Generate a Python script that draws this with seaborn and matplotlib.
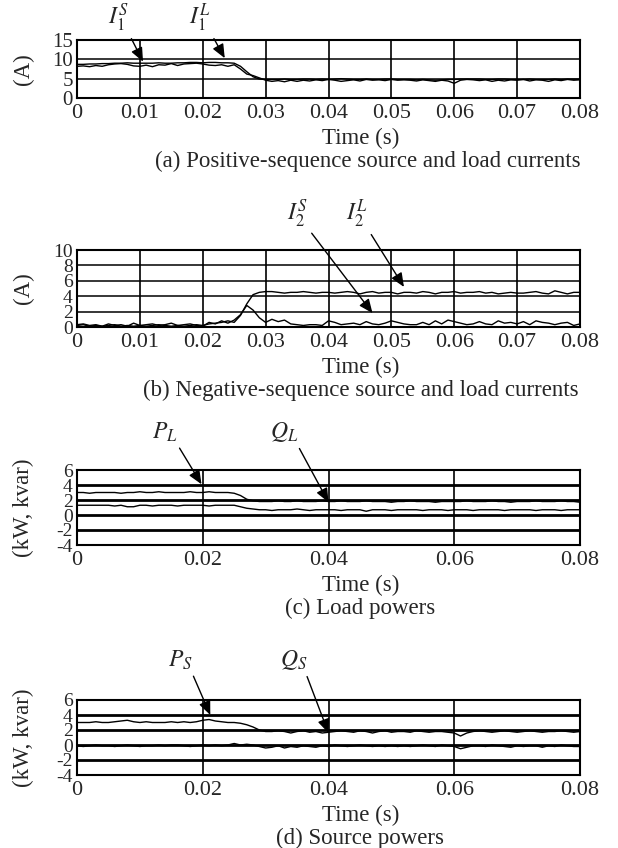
import numpy as np
import pandas as pd
import matplotlib
matplotlib.use('Agg')
import matplotlib.pyplot as plt
import seaborn as sns

# sample instants, 1 ms apart
time = [round(i * 0.001, 3) for i in range(81)]

# (a) positive-sequence currents (A)
i1_source = [8.2, 8.3, 8.1, 8.4, 8.2, 8.6, 8.8, 8.9, 8.7, 8.3,
             8.2, 8.5, 8.1, 8.6, 8.5, 8.9, 8.4, 8.8, 8.9, 9.0,
             8.8, 8.5, 8.4, 8.6, 8.2, 8.6, 7.5, 6.2, 5.8, 5.2,
             4.6, 4.3, 4.5, 4.2, 4.6, 4.3, 4.6, 4.4, 4.7, 4.5,
             4.8, 4.6, 4.3, 4.5, 4.7, 4.4, 4.8, 4.6, 4.7, 4.5,
             4.8, 4.6, 4.7, 4.6, 4.4, 4.7, 4.5, 4.3, 4.6, 4.4,
             3.8, 4.6, 4.8, 4.7, 4.5, 4.7, 4.3, 4.6, 4.4, 4.7,
             4.6, 4.8, 4.4, 4.7, 4.6, 4.3, 4.7, 4.5, 4.8, 4.6, 4.7]
i1_load = [8.7, 8.7, 8.8, 8.8, 8.9, 8.9, 9.0, 9.0, 9.1, 9.0,
           9.0, 9.0, 9.0, 9.1, 9.0, 9.0, 9.1, 9.1, 9.2, 9.2,
           9.1, 9.2, 9.2, 9.1, 9.1, 9.0, 8.2, 6.8, 5.5, 4.9,
           4.8, 4.8, 4.8, 4.9, 4.8, 4.8, 4.9, 4.9, 4.8, 4.9,
           4.8, 4.9, 5.0, 4.9, 4.8, 4.8, 4.9, 4.8, 4.8, 4.9,
           4.9, 4.8, 4.8, 4.8, 4.7, 4.8, 4.7, 4.6, 4.7, 4.8,
           4.8, 4.9, 4.9, 4.9, 4.9, 4.8, 4.8, 4.9, 4.9, 4.8,
           4.8, 4.8, 4.9, 4.8, 4.8, 4.8, 4.9, 4.8, 4.9, 4.9, 4.9]

# (b) negative-sequence currents (A)
i2_source = [0.3, 0.4, 0.2, 0.3, 0.1, 0.4, 0.2, 0.3, 0.1, 0.5,
             0.2, 0.3, 0.4, 0.2, 0.3, 0.5, 0.2, 0.3, 0.4, 0.2,
             0.1, 0.6, 0.4, 0.8, 0.5, 0.9, 1.6, 2.8, 2.2, 1.2,
             0.6, 1.0, 0.7, 0.9, 0.4, 0.3, 0.2, 0.3, 0.3, 0.2,
             0.8, 0.6, 0.3, 0.4, 0.5, 0.3, 0.7, 0.4, 0.3, 0.5,
             0.8, 0.6, 0.4, 0.3, 0.3, 0.6, 0.3, 0.8, 0.4, 0.9,
             0.7, 0.5, 0.3, 0.4, 0.7, 0.4, 0.3, 0.8, 0.5, 0.6,
             0.4, 0.7, 0.3, 0.8, 0.6, 0.5, 0.3, 0.5, 0.6, 0.2, 0.4]
i2_load = [0.2, 0.3, 0.1, 0.2, 0.1, 0.2, 0.3, 0.1, 0.2, 0.1,
           0.2, 0.1, 0.2, 0.3, 0.2, 0.1, 0.2, 0.1, 0.2, 0.3,
           0.2, 0.4, 0.5, 0.6, 0.8, 0.6, 1.5, 3.0, 4.2, 4.5,
           4.6, 4.6, 4.5, 4.4, 4.5, 4.5, 4.6, 4.5, 4.4, 4.5,
           4.5, 4.4, 4.5, 4.6, 4.5, 4.3, 4.5, 4.6, 4.4, 4.5,
           4.5, 4.3, 4.5, 4.5, 4.4, 4.6, 4.5, 4.3, 4.5, 4.5,
           4.6, 4.4, 4.5, 4.5, 4.6, 4.4, 4.5, 4.3, 4.4, 4.5,
           4.4, 4.4, 4.5, 4.6, 4.4, 4.3, 4.7, 4.5, 4.3, 4.5, 4.5]

# (c) load powers (kW, kvar)
p_load = [3.0, 3.0, 2.9, 3.0, 3.0, 3.0, 3.0, 2.9, 3.0, 3.0,
          3.1, 3.0, 3.0, 3.1, 3.0, 3.0, 3.0, 3.0, 3.1, 3.0,
          3.0, 3.1, 3.0, 3.0, 3.0, 2.9, 2.6, 2.1, 1.9, 1.8,
          1.8, 1.8, 1.9, 1.8, 1.8, 1.9, 1.8, 1.8, 1.8, 1.9,
          1.8, 1.8, 1.9, 1.8, 1.8, 1.8, 1.9, 1.8, 1.8, 1.8,
          1.7, 1.8, 1.8, 1.9, 1.8, 1.8, 1.8, 1.7, 1.8, 1.8,
          1.8, 1.8, 1.9, 1.8, 1.8, 1.8, 1.9, 1.8, 1.8, 1.7,
          1.8, 1.8, 1.8, 1.9, 1.8, 1.8, 1.8, 1.9, 1.8, 1.8, 1.7]
q_load = [1.3, 1.3, 1.3, 1.3, 1.3, 1.3, 1.2, 1.3, 1.1, 1.1,
          1.3, 1.3, 1.2, 1.3, 1.3, 1.3, 1.2, 1.3, 1.3, 1.3,
          1.3, 1.2, 1.3, 1.3, 1.3, 1.3, 1.1, 0.9, 0.8, 0.7,
          0.7, 0.6, 0.7, 0.7, 0.7, 0.8, 0.7, 0.6, 0.7, 0.7,
          0.7, 0.7, 0.6, 0.7, 0.7, 0.7, 0.5, 0.7, 0.7, 0.7,
          0.6, 0.7, 0.7, 0.7, 0.7, 0.6, 0.7, 0.7, 0.7, 0.6,
          0.7, 0.7, 0.7, 0.6, 0.7, 0.7, 0.7, 0.7, 0.6, 0.7,
          0.7, 0.7, 0.7, 0.6, 0.7, 0.7, 0.7, 0.6, 0.7, 0.7, 0.7]

# (d) source powers (kW, kvar)
p_source = [3.0, 3.0, 3.0, 3.1, 3.0, 3.0, 3.1, 3.2, 3.3, 3.1,
            3.0, 3.1, 3.0, 3.0, 3.0, 3.1, 3.0, 3.1, 3.0, 3.1,
            3.3, 3.4, 3.2, 3.1, 3.0, 3.0, 2.9, 2.7, 2.4, 2.0,
            1.8, 1.8, 1.9, 1.8, 1.6, 1.8, 1.9, 1.7, 1.8, 1.6,
            1.7, 1.8, 1.9, 1.8, 1.7, 1.9, 1.8, 1.6, 1.8, 1.9,
            1.7, 1.8, 1.8, 1.7, 1.9, 1.8, 1.7, 1.8, 1.8, 1.7,
            1.6, 1.2, 1.6, 1.8, 1.9, 1.8, 1.7, 1.8, 1.9, 1.8,
            1.7, 1.8, 1.9, 1.8, 1.7, 1.8, 1.8, 1.9, 1.8, 1.7, 1.8]
q_source = [-0.1, -0.2, -0.1, 0.0, -0.1, -0.1, -0.2, -0.1, 0.0, -0.1,
            -0.2, -0.1, -0.1, 0.0, -0.1, 0.0, 0.0, -0.1, -0.2, -0.1,
            0.0, -0.1, 0.0, -0.1, 0.0, 0.2, 0.0, 0.1, 0.0, -0.2,
            -0.4, -0.3, -0.1, -0.4, -0.2, -0.3, -0.1, -0.2, -0.3, -0.1,
            -0.2, 0.0, -0.1, -0.2, -0.1, 0.0, -0.1, -0.2, -0.1, -0.2,
            -0.1, -0.2, -0.1, -0.2, -0.1, 0.0, -0.1, -0.2, 0.0, -0.1,
            -0.2, -0.5, -0.3, -0.1, -0.1, -0.2, 0.0, -0.1, -0.2, -0.3,
            -0.1, -0.2, -0.1, -0.1, -0.3, -0.1, -0.2, 0.0, -0.1, -0.2, -0.2]

captions = ['(a) Positive-sequence source and load currents',
            '(b) Negative-sequence source and load currents',
            '(c) Load powers',
            '(d) Source powers']


def to_long(series):
    frames = []
    for name, vals in series.items():
        frames.append(pd.DataFrame({'t': time, 'v': vals, 'series': name}))
    return pd.concat(frames, ignore_index=True)


sns.set_style('white')
plt.rcParams['font.family'] = ['Liberation Serif', 'DejaVu Serif']
plt.rcParams['mathtext.fontset'] = 'stix'
FS = 16.5

W, H = 618, 848
fig = plt.figure(figsize=(W / 100, H / 100), dpi=100)


def px_axes(top, bottom, left=77, right=580):
    return fig.add_axes([left / W, 1 - bottom / H, (right - left) / W, (bottom - top) / H])


panels = [
    dict(box=(40, 98), data={'S': i1_source, 'L': i1_load}, ylim=(0, 15),
         yticks=[0, 5, 10, 15], xstep=0.01, ylabel='(A)', hlw=1.1, above=22, cap_x=0.578),
    dict(box=(250, 327), data={'S': i2_source, 'L': i2_load}, ylim=(0, 10),
         yticks=[0, 2, 4, 6, 8, 10], xstep=0.01, ylabel='(A)', hlw=1.1, above=36, cap_x=0.565),
    dict(box=(470, 545), data={'P': p_load, 'Q': q_load}, ylim=(-4, 6),
         yticks=[-4, -2, 0, 2, 4, 6], xstep=0.02, ylabel='(kW, kvar)', hlw=2.0, above=38, cap_x=0.563),
    dict(box=(700, 775), data={'P': p_source, 'Q': q_source}, ylim=(-4, 6),
         yticks=[-4, -2, 0, 2, 4, 6], xstep=0.02, ylabel='(kW, kvar)', hlw=2.0, above=40, cap_x=0.563),
]

axes = []
for k, p in enumerate(panels):
    ax = px_axes(*p['box'])
    h = p['box'][1] - p['box'][0]
    df = to_long(p['data'])
    sns.lineplot(data=df, x='t', y='v', units='series', estimator=None,
                 color='black', lw=1.0, ax=ax, legend=False)
    ax.set_xlim(0, 0.08)
    ax.set_ylim(*p['ylim'])
    xt = np.round(np.arange(0, 0.0801, p['xstep']), 2)
    ax.set_xticks(xt)
    ax.set_xticklabels(['0'] + ['%.2f' % v for v in xt[1:]])
    ax.set_yticks(p['yticks'])
    ax.set_yticklabels([str(v) for v in p['yticks']])
    ax.tick_params(length=0, pad=4)
    ax.tick_params(axis='x', labelsize=FS - 0.5)
    ax.tick_params(axis='y', labelsize=14 if k else 15, pad=3)
    for v in xt[1:-1]:
        ax.axvline(v, color='black', lw=1.2, zorder=1)
    for v in p['yticks'][1:-1]:
        ax.axhline(v, color='black', lw=p['hlw'], zorder=1)
    for s in ax.spines.values():
        s.set_color('black')
        s.set_linewidth(1.5)
    ax.set_xlabel('Time (s)', fontsize=FS)
    ax.xaxis.set_label_coords(0.563, -30 / h)
    ax.set_ylabel(p['ylabel'], fontsize=FS)
    ax.yaxis.set_label_coords(-0.085, 0.5)
    ax.annotate(captions[k], xy=(p['cap_x'], 0), xycoords='axes fraction',
                xytext=(0, -63), textcoords='offset pixels',
                ha='center', va='center', fontsize=FS)
    p['yfrac'] = 1 + p['above'] / h
    axes.append(ax)

arrow = dict(arrowstyle='-|>,head_length=0.7,head_width=0.3', color='black',
             lw=1.0, relpos=(0.85, 0.2), shrinkA=1, shrinkB=0, mutation_scale=12)

labels = [
    (0, r'$I_1^S$', (0.0105, 9.4), 0.0066),
    (0, r'$I_1^L$', (0.0235, 10.3), 0.0196),
    (1, r'$I_2^S$', (0.047, 1.8), 0.0350),
    (1, r'$I_2^L$', (0.052, 5.2), 0.0445),
    (2, r'$P_L$', (0.0198, 4.1), 0.0140),
    (2, r'$Q_L$', (0.040, 1.7), 0.0330),
    (3, r'$P_S$', (0.0212, 4.0), 0.0165),
    (3, r'$Q_S$', (0.040, 1.6), 0.0345),
]
for k, txt, tip, tx in labels:
    axes[k].annotate(txt, xy=tip, xycoords='data', xytext=(tx, panels[k]['yfrac']),
                     textcoords=('data', 'axes fraction'), ha='center', va='center',
                     fontsize=FS + 0.5, arrowprops=arrow, annotation_clip=False)

fig.savefig('out.png', dpi=100)
